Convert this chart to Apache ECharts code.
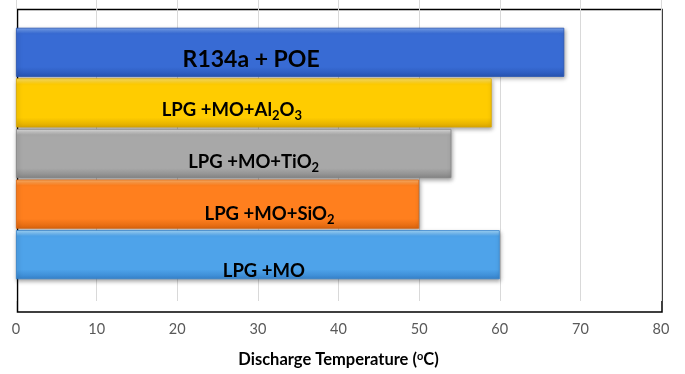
<!DOCTYPE html>
<html>
<head>
<meta charset="utf-8">
<script src="https://cdn.jsdelivr.net/npm/echarts@6/dist/echarts.min.js"></script>
<style>
  html, body { margin: 0; padding: 0; background: #fff; }
  #chart { width: 685px; height: 374px; }
</style>
</head>
<body>
<div id="chart"></div>
<script>
// Refrigerant / lubricant mixtures, listed top to bottom
const categories = ['R134a + POE', 'LPG +MO+Al2O3', 'LPG +MO+TiO2', 'LPG +MO+SiO2', 'LPG +MO'];
// Compressor discharge temperature, °C
const dischargeTemp = [68, 59, 54, 50, 60];
// Bar captions (rich-text markup for chemical subscripts)
const captions = [
  '{big|R134a + POE}',
  '{a|LPG +MO+Al}{s|2}{a|O}{s|3}',
  '{a|LPG +MO+TiO}{s|2}',
  '{a|LPG +MO+SiO}{s|2}',
  '{a|LPG +MO}'
];
// Value axis range
const axisMin = 0, axisMax = 80, axisStep = 10;

// Styling: bar fills (top highlight, body, lower shade) and caption offsets
const barFills = [
  ['#7aa6f2', '#386bd4', '#2855b4'],
  ['#ffe36a', '#ffcc00', '#dca800'],
  ['#e2e2e2', '#a8a8a8', '#868686'],
  ['#ffb46a', '#ff7f1e', '#dc650e'],
  ['#a8dcff', '#4ea3ea', '#3683cc']
];
const captionOffsets = [[-39, 7], [-22, 7], [20, 9], [52, 10], [6, 16]];

function fill(c) {
  return {
    type: 'linear', x: 0, y: 0, x2: 0, y2: 1,
    colorStops: [
      { offset: 0, color: c[0] },
      { offset: 0.12, color: c[1] },
      { offset: 0.8, color: c[1] },
      { offset: 1, color: c[2] }
    ]
  };
}

const FONT = 'Lato, "Open Sans", sans-serif';
const richStyles = {
  big: { fontFamily: FONT, fontWeight: 'bold', fontSize: 23, color: '#000', lineHeight: 26 },
  a: { fontFamily: FONT, fontWeight: 'bold', fontSize: 18.5, color: '#000', lineHeight: 22 },
  s: { fontFamily: FONT, fontWeight: 'bold', fontSize: 13, color: '#000', lineHeight: 13, padding: [11, 0, 0, 0] }
};

const chart = echarts.init(document.getElementById('chart'), null, { renderer: 'canvas' });

const option = {
  animation: false,
  backgroundColor: '#fff',
  grid: [
    // bars
    { left: 16, right: 24, top: 27, bottom: 94 },
    // gridlines, tick labels and axis title
    { left: 16, right: 24, top: 0, bottom: 62 },
    // plot frame
    { left: 17.5, right: 23, top: 9.5, bottom: 62, show: true, borderColor: '#000', borderWidth: 1.5, backgroundColor: 'transparent' }
  ],
  xAxis: [
    { gridIndex: 0, type: 'value', min: axisMin, max: axisMax, interval: axisStep, show: false },
    {
      gridIndex: 1, type: 'value', min: axisMin, max: axisMax, interval: axisStep,
      axisLine: { show: false }, axisTick: { show: false },
      splitLine: { show: true, lineStyle: { color: '#d9d9d9', width: 1 } },
      axisLabel: { color: '#595959', fontFamily: FONT, fontSize: 14.5, margin: 21 },
      name: '{t|Discharge Temperature (}{sup|o}{t|C)}',
      nameLocation: 'middle', nameGap: 50,
      nameTextStyle: {
        rich: {
          t: { fontFamily: FONT, fontWeight: 'bold', fontSize: 16.5, color: '#000', lineHeight: 18 },
          sup: { fontFamily: FONT, fontWeight: 'bold', fontSize: 11, color: '#000', lineHeight: 11, padding: [0, 0, 7, 0] }
        }
      }
    },
    { gridIndex: 2, type: 'value', min: axisMin, max: axisMax, show: false }
  ],
  yAxis: [
    { gridIndex: 0, type: 'category', data: categories, inverse: true, show: false },
    { gridIndex: 1, type: 'category', data: categories, inverse: true, show: false },
    { gridIndex: 2, type: 'category', data: categories, inverse: true, show: false }
  ],
  series: [{
    type: 'bar',
    xAxisIndex: 0, yAxisIndex: 0,
    barCategoryGap: '3%',
    z: 5,
    data: dischargeTemp.map((v, i) => ({
      value: v,
      itemStyle: {
        color: fill(barFills[i]),
        borderColor: barFills[i][2],
        borderWidth: 0.8,
        shadowColor: 'rgba(0,0,0,0.35)',
        shadowBlur: 4,
        shadowOffsetX: 1,
        shadowOffsetY: 2
      },
      label: {
        show: true,
        position: 'inside',
        offset: captionOffsets[i],
        formatter: captions[i],
        rich: richStyles
      }
    }))
  }]
};

chart.setOption(option);
</script>
</body>
</html>
